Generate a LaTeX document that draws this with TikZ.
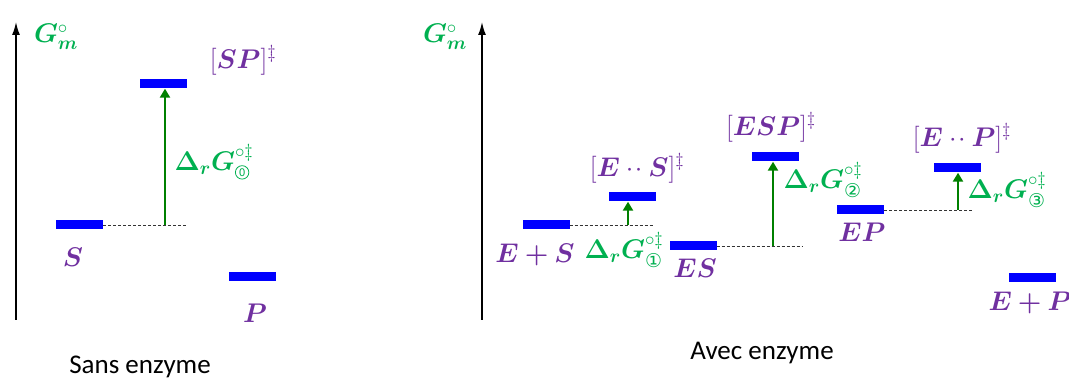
\RequirePackage{fix-cm}
\documentclass[tikz,border=0pt]{standalone}
\usepackage{amsmath}
\usepackage{bm}
\usepackage{fontspec}
\setmainfont{Carlito}
\newfontfamily\circfont{DejaVu Sans}
\usetikzlibrary{arrows.meta}
\definecolor{barblue}{HTML}{0000FF}
\definecolor{lblpurple}{HTML}{7030A0}
\definecolor{lblgreen}{HTML}{00B050}
\definecolor{arrgreen}{HTML}{008000}
\newcommand{\circd}[1]{\text{\circfont\fontsize{19}{19}\selectfont #1}}
\newcommand{\circzero}{\text{\tikz[baseline=(z.base),x=1cm,y=1cm]\node[draw=lblgreen,text=lblgreen,circle,inner sep=1.1pt,line width=0.8pt,font=\circfont\fontsize{10.5}{10.5}\selectfont] (z) {0};}}
\newcommand{\twodots}{\mathbin{{\cdot}\mkern1mu{\cdot}}}
\begin{document}
\begin{tikzpicture}[x=1pt,y=-1pt,
  levelbar/.style={fill=barblue,draw=none,minimum width=47pt,minimum height=9pt,inner sep=0pt},
  axisline/.style={line width=1.6pt,-{Latex[length=13pt,width=8pt]}},
  garrow/.style={draw=arrgreen,line width=2.2pt,-{Triangle[length=9pt,width=10pt]}},
  dashline/.style={draw=black!80,line width=0.8pt,dash pattern=on 3pt off 2pt},
  species/.style={text=lblpurple,inner sep=0pt,font=\fontsize{27}{31}\selectfont},
  energy/.style={text=lblgreen,inner sep=0pt,font=\fontsize{27}{31}\selectfont},
  caption/.style={inner sep=0pt,font=\fontsize{27}{31}\selectfont}]
\useasboundingbox (0,0) rectangle (1069,379);
% ---------- Sans enzyme ----------
\coordinate (ax1b) at (16,320);
\coordinate (ax1t) at (16,22);
\draw[axisline] (ax1b) -- (ax1t);
\node[energy] (gm1) at (56,37) {$\bm{G}^{\circ}_{\bm{m}}$};
\node[levelbar] (SPt) at (163.5,84) {};
\node[levelbar] (S) at (79.5,225) {};
\node[levelbar] (P) at (252,277) {};
\coordinate (d1) at (187,225);
\draw[dashline] (S.east) -- (d1);
\coordinate (a1) at (165,225);
\draw[garrow] (a1) -- (a1 |- SPt.south);
\node[species] (lSPt) at (243,60) {$[\bm{SP}]^{\ddagger}$};
\node[species] (lS) at (73,257) {$\bm{S}$};
\node[species] (lP) at (255,313) {$\bm{P}$};
\node[energy] (dg0) at (214,162) {$\bm{\Delta_r G}^{\circ\ddagger}_{\circzero}$};
\node[caption] (cap1) at (140,367) {Sans enzyme};
% ---------- Avec enzyme ----------
\coordinate (ax2b) at (482,320);
\coordinate (ax2t) at (482,22);
\draw[axisline] (ax2b) -- (ax2t);
\node[energy] (gm2) at (445,37) {$\bm{G}^{\circ}_{\bm{m}}$};
\node[levelbar] (EpS) at (546,225) {};
\node[levelbar] (ESt) at (632,197) {};
\node[levelbar] (ES) at (693,246) {};
\node[levelbar] (ESP) at (775.5,157) {};
\node[levelbar] (EP) at (860.5,210) {};
\node[levelbar] (EPt) at (957.5,168) {};
\node[levelbar] (EpP) at (1032,278) {};
\coordinate (d2) at (653,225);
\coordinate (d3) at (802,246);
\coordinate (d4) at (972,210);
\draw[dashline] (EpS.east) -- (d2);
\draw[dashline] (ES.east) -- (d3);
\draw[dashline] (EP.east) -- (d4);
\coordinate (a2) at (628,225);
\coordinate (a3) at (773,246);
\coordinate (a4) at (958,210);
\draw[garrow] (a2) -- (a2 |- ESt.south);
\draw[garrow] (a3) -- (a3 |- ESP.south);
\draw[garrow] (a4) -- (a4 |- EPt.south);
\node[species] (lEpS) at (535,255) {$\bm{E+S}$};
\node[species] (lESt) at (637,168) {$[\bm{E}\twodots\bm{S}]^{\ddagger}$};
\node[species] (lES) at (695,268) {$\bm{ES}$};
\node[species] (lESP) at (771,127) {$[\bm{ESP}]^{\ddagger}$};
\node[species] (lEP) at (862,232) {$\bm{EP}$};
\node[species] (lEPt) at (962,138) {$[\bm{E}\twodots\bm{P}]^{\ddagger}$};
\node[species] (lEpP) at (1030,303) {$\bm{E+P}$};
\node[energy] (dg1) at (624,250) {$\bm{\Delta_r G}^{\circ\ddagger}_{\circd{①}}$};
\node[energy] (dg2) at (823,180) {$\bm{\Delta_r G}^{\circ\ddagger}_{\circd{②}}$};
\node[energy] (dg3) at (1007,190) {$\bm{\Delta_r G}^{\circ\ddagger}_{\circd{③}}$};
\node[caption] (cap2) at (762,353) {Avec enzyme};
\end{tikzpicture}
\end{document}
